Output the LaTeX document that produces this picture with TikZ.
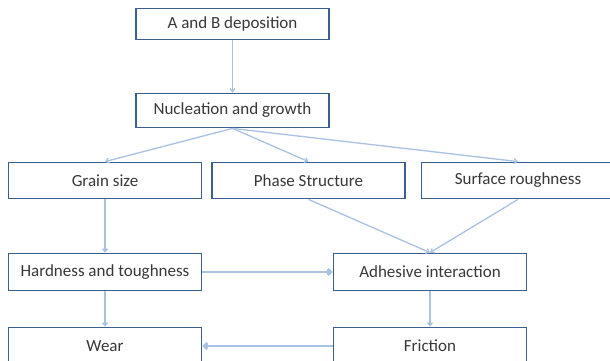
\documentclass[tikz,border=0pt]{standalone}
\usepackage{fontspec}
\setmainfont{Carlito}
\usepackage{tikz,color}
\usetikzlibrary{positioning,arrows.meta}
\usepackage{xcolor}
\definecolor{boxline}{HTML}{3A5E90}
\definecolor{flow}{HTML}{A9C2E2}
\definecolor{boxtext}{HTML}{383838}

\begin{document}
\begin{tikzpicture}[x=1pt,y=-1pt,
    stage/.style={draw=boxline, line width=1.8pt, fill=white, text=boxtext,
      font=\fontsize{17}{19}\selectfont, minimum width=193pt, inner sep=0pt},
    link/.style={-{Straight Barb[length=3pt,width=5pt]}, flow, line width=1.3pt},
    biglink/.style={-{Straight Barb[length=3pt,width=6pt]}, flow, line width=2.8pt}]
    \clip (0,0) rectangle (610,361);
    \fill[white] (0,0) rectangle (610,361);
    \node[stage, minimum height=31pt] at (232.5,24) (depo) {A and B deposition};
    \node[stage, minimum height=34pt] at (232.5,110.5) (nucl) {Nucleation and growth};
    \node[stage, minimum height=36pt] at (105,180.5) (grain) {Grain size};
    \node[stage, minimum height=36pt] at (308.5,180.5) (phase) {Phase Structure};
    \node[stage, minimum height=36pt] at (518,180.5) (rough) {Surface roughness};
    \node[stage, minimum height=37pt] at (105,272) (hard) {Hardness and toughness};
    \node[stage, minimum height=37pt] at (430,272) (adhes) {Adhesive interaction};
    \node[stage, minimum height=37pt] at (105,346) (wear) {Wear};
    \node[stage, minimum height=37pt] at (430,346) (fric) {Friction};
    \draw [link] (depo) -- (nucl);
    \draw [link] (nucl.south) -- (grain.north);
    \draw [link] (nucl.south) -- (phase.north);
    \draw [link] (nucl.south) -- (rough.north);
    \draw [link] (phase.south) -- (adhes.north);
    \draw [link] (rough.south) -- (adhes.north);
    \draw [link] (grain) -- (hard);
    \draw [link] (hard) -- (wear);
    \draw [link] (adhes) -- (fric);
    \draw [biglink] (hard) -- (adhes);
    \draw [biglink] (fric) -- (wear);
\end{tikzpicture}
\end{document}
